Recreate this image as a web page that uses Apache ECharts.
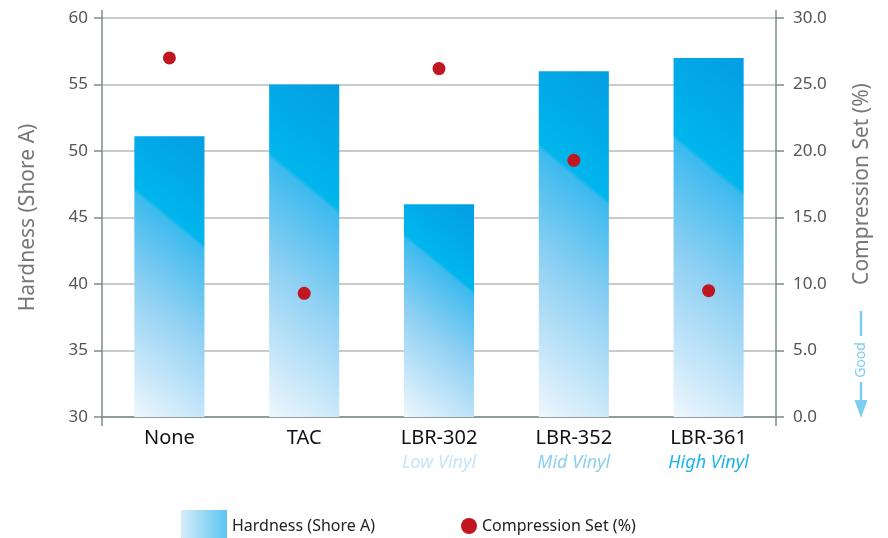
<!DOCTYPE html>
<html>
<head>
<meta charset="utf-8">
<script src="https://cdn.jsdelivr.net/npm/echarts@6/dist/echarts.min.js"></script>
<style>
html,body{margin:0;padding:0;background:#fff;}
#chart{width:888px;height:538px;}
</style>
</head>
<body>
<div id="chart"></div>
<script>
const categories = ['None', 'TAC', 'LBR-302', 'LBR-352', 'LBR-361'];
const subLabels = ['', '', 'Low Vinyl', 'Mid Vinyl', 'High Vinyl'];
const subColors = ['#c4e5f8', '#c4e5f8', '#c4e5f8', '#8ccff2', '#1ab4ea'];
const hardness = [51.1, 55.0, 46.0, 56.0, 57.0];
const compressionSet = [27.0, 9.3, 26.2, 19.3, 9.5];

const FONT = 'Noto Sans';
const AXIS_COLOR = '#7f8c8c';
const GOOD_COLOR = '#7dcdf2';
const chart = echarts.init(document.getElementById('chart'));

const barStops = [
  { offset: 0, color: '#049de2' },
  { offset: 0.32, color: '#00b6ed' },
  { offset: 0.335, color: '#3dbaee' },
  { offset: 0.6, color: '#8fd0f3' },
  { offset: 1, color: '#eef7fd' }
];
const legendGradient = new echarts.graphic.LinearGradient(0, 0, 1, 0, [
  { offset: 0, color: '#d6ecfa' },
  { offset: 1, color: '#5cc5f1' }
]);

const rich = {};
subLabels.forEach((s, i) => {
  rich['s' + i] = { fontFamily: FONT, fontStyle: 'italic', fontSize: 18, color: subColors[i], lineHeight: 26 };
});

const BAR_RATIO = 0.52;

chart.setOption({
  animation: false,
  textStyle: { fontFamily: FONT },
  grid: { left: 102, right: 112, top: 18, bottom: 121 },
  legend: [
    {
      data: [{ name: 'Hardness (Shore A)', icon: 'rect', itemStyle: { color: legendGradient } }],
      left: 176, top: 505, itemWidth: 46, itemHeight: 32, itemGap: 8,
      textStyle: { fontFamily: FONT, fontSize: 16, color: '#222' },
      selectedMode: false
    },
    {
      data: [{ name: 'Compression Set (%)', icon: 'circle' }],
      left: 456, top: 513, itemWidth: 16, itemHeight: 16, itemGap: 9,
      textStyle: { fontFamily: FONT, fontSize: 16, color: '#222' },
      selectedMode: false
    }
  ],
  xAxis: {
    type: 'category',
    data: categories,
    axisLine: { lineStyle: { color: AXIS_COLOR, width: 1.5 } },
    axisTick: { show: false },
    axisLabel: {
      interval: 0,
      margin: 9,
      fontFamily: FONT, fontSize: 20, color: '#111', lineHeight: 24,
      formatter: (v, i) => subLabels[i] ? v + '\n{s' + i + '|' + subLabels[i] + '}' : v,
      rich: rich
    }
  },
  yAxis: [
    {
      type: 'value', min: 30, max: 60, interval: 5,
      name: 'Hardness (Shore A)', nameLocation: 'middle', nameGap: 63,
      nameTextStyle: { fontFamily: FONT, fontSize: 21, color: '#777' },
      axisLine: { show: true, lineStyle: { color: AXIS_COLOR, width: 1.5 } },
      axisTick: { show: true, length: 8, lineStyle: { color: AXIS_COLOR, width: 1.5 } },
      axisLabel: { margin: 14, fontFamily: FONT, fontSize: 17, color: '#555' },
      splitLine: { show: true, lineStyle: { color: '#b3bbbb', width: 1.5 } }
    },
    {
      type: 'value', min: 0, max: 30, interval: 5, position: 'right',
      axisLine: { show: true, lineStyle: { color: AXIS_COLOR, width: 1.5 } },
      axisTick: { show: true, length: 8, lineStyle: { color: AXIS_COLOR, width: 1.5 } },
      axisLabel: { margin: 17, fontFamily: FONT, fontSize: 17, color: '#555', formatter: v => v.toFixed(1) },
      splitLine: { show: false }
    }
  ],
  series: [
    {
      name: 'Hardness (Shore A)', type: 'bar', yAxisIndex: 0,
      data: hardness, barWidth: (BAR_RATIO * 100) + '%',
      itemStyle: { color: '#00b6ed' }
    },
    {
      name: 'Compression Set (%)', type: 'scatter', yAxisIndex: 1,
      data: compressionSet, symbol: 'circle', symbolSize: 13,
      itemStyle: { color: '#c0161f', opacity: 1 }, z: 5
    }
  ]
});

// Per-bar diagonal gradient with a constant pixel angle, sized from the axis scale.
(function finish() {
  const base = chart.convertToPixel({ yAxisIndex: 0 }, 30);
  const top = chart.convertToPixel({ yAxisIndex: 0 }, 60);
  const c0 = chart.convertToPixel({ xAxisIndex: 0 }, categories[0]);
  const c1 = chart.convertToPixel({ xAxisIndex: 0 }, categories[1]);
  const band = Math.abs(c1 - c0);
  const w = band * BAR_RATIO;
  const slope = 0.82;
  const n = Math.sqrt(1 + slope * slope);
  const ux = -slope / n, uy = 1 / n;
  const data = hardness.map(v => {
    const h = Math.abs(base - chart.convertToPixel({ yAxisIndex: 0 }, v));
    const L = w * Math.abs(ux) + h * uy;
    const x2 = 1 + (L * ux) / w;
    const y2 = (L * uy) / h;
    return {
      value: v,
      itemStyle: { color: new echarts.graphic.LinearGradient(1, 0, x2, y2, barStops) }
    };
  });

  const left = c0 - band / 2;
  const right = left + band * categories.length;
  const graphics = [];
  [left, right].forEach((x, k) => {
    graphics.push({ id: 'extTop' + k, type: 'line', shape: { x1: x, y1: top - 8, x2: x, y2: top }, style: { stroke: AXIS_COLOR, lineWidth: 1.5 } });
    graphics.push({ id: 'extBot' + k, type: 'line', shape: { x1: x, y1: base, x2: x, y2: base + 9 }, style: { stroke: AXIS_COLOR, lineWidth: 1.5 } });
  });
  graphics.push(
    {
      id: 'rightName', type: 'text', x: 862, y: 184, rotation: Math.PI / 2,
      style: { text: 'Compression Set (%)', fontFamily: FONT, fontSize: 21, fill: '#777', align: 'center', verticalAlign: 'middle' }
    },
    { id: 'goodLine1', type: 'line', shape: { x1: 861, y1: 311, x2: 861, y2: 336 }, style: { stroke: GOOD_COLOR, lineWidth: 2.5 } },
    {
      id: 'goodText', type: 'text', x: 861, y: 360, rotation: Math.PI / 2,
      style: { text: 'Good', fontFamily: FONT, fontSize: 14, fill: GOOD_COLOR, align: 'center', verticalAlign: 'middle' }
    },
    { id: 'goodLine2', type: 'line', shape: { x1: 861, y1: 382, x2: 861, y2: 403 }, style: { stroke: GOOD_COLOR, lineWidth: 2.5 } },
    { id: 'goodArrow', type: 'polygon', shape: { points: [[854.5, 400], [867.5, 400], [861, 418]] }, style: { fill: GOOD_COLOR } }
  );
  chart.setOption({ series: [{ data: data }], graphic: graphics });
})();
</script>
</body>
</html>
